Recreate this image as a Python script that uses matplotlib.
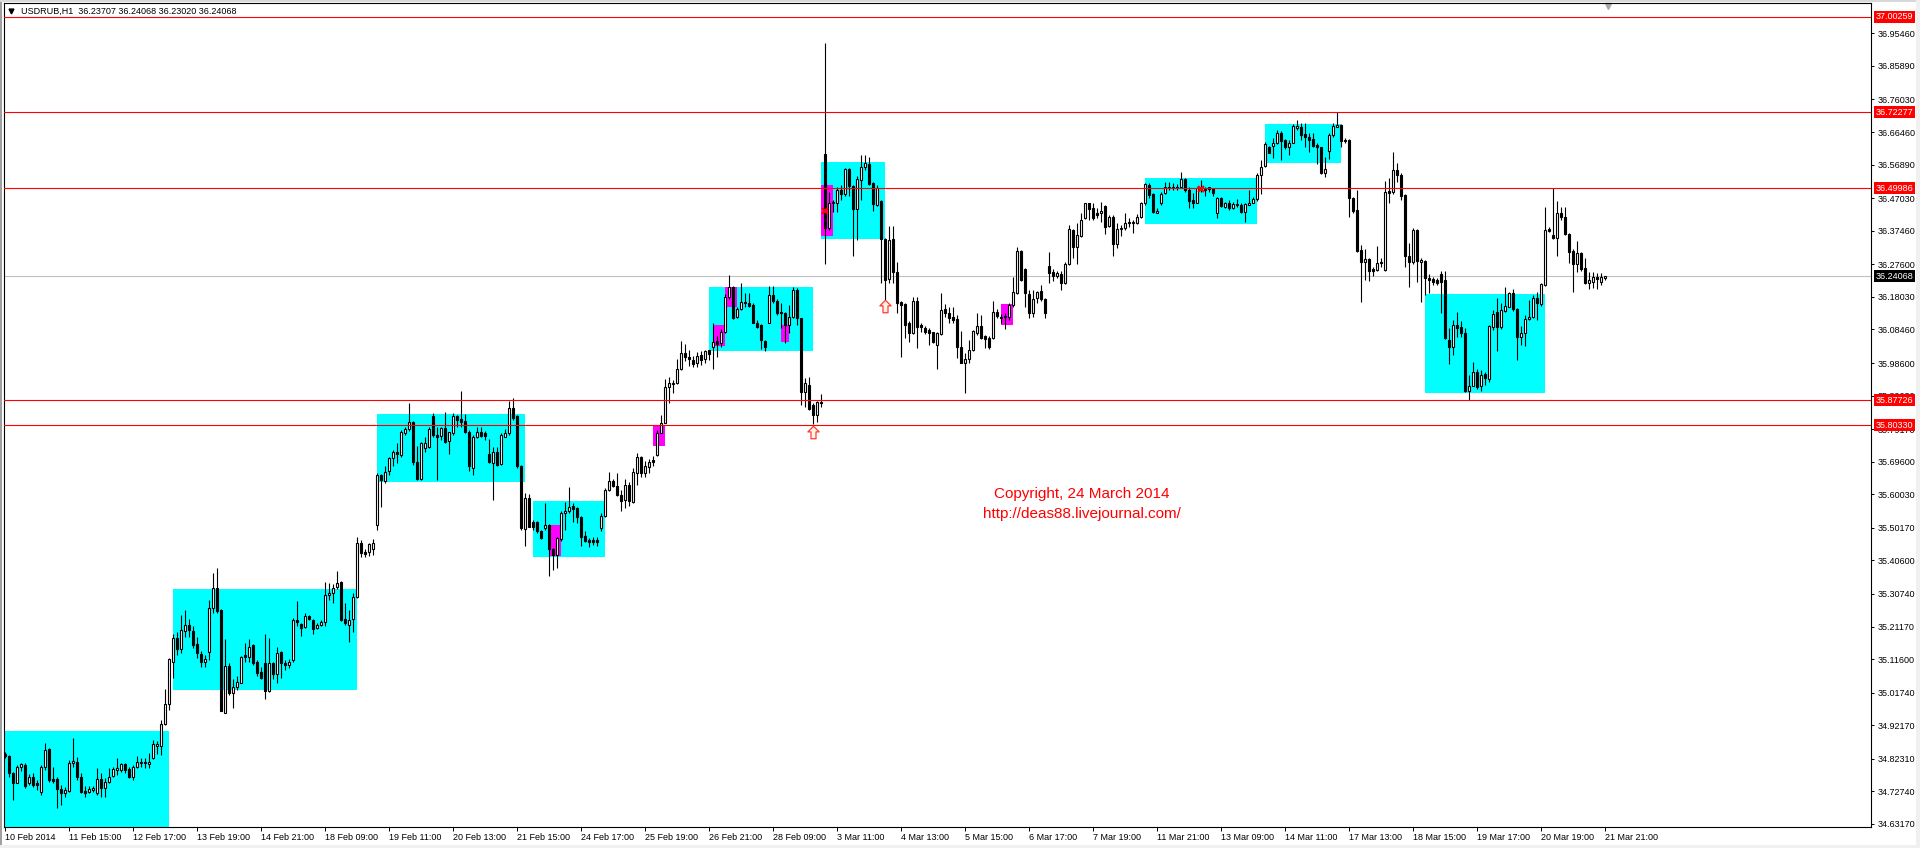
import numpy as np
import matplotlib
matplotlib.use('Agg')
import matplotlib.pyplot as plt
from matplotlib.path import Path
from matplotlib.patches import Rectangle

plt.rcParams['font.family'] = ['Liberation Sans', 'DejaVu Sans']

# USDRUB H1 candles, 10 Feb - 21 Mar 2014
opens = [
    34.838, 34.832, 34.781, 34.753, 34.798, 34.804, 34.752, 34.771, 34.753, 34.727,
    34.798, 34.851, 34.765, 34.763, 34.734, 34.722, 34.730, 34.810, 34.814, 34.769,
    34.730, 34.727, 34.732, 34.722, 34.763, 34.737, 34.756, 34.773, 34.791, 34.789,
    34.808, 34.793, 34.771, 34.798, 34.812, 34.814, 34.808, 34.825, 34.861, 34.862,
    34.925, 34.984, 35.109, 35.179, 35.145, 35.200, 35.216, 35.198, 35.161, 35.131,
    35.109, 35.138, 35.265, 35.324, 35.259, 34.959, 35.097, 35.016, 35.035, 35.047,
    35.127, 35.121, 35.157, 35.109, 35.078, 35.104, 35.021, 35.106, 35.073, 35.137,
    35.106, 35.099, 35.112, 35.231, 35.219, 35.210, 35.243, 35.231, 35.207, 35.216,
    35.226, 35.303, 35.309, 35.327, 35.344, 35.233, 35.216, 35.233, 35.298, 35.458,
    35.432, 35.432, 35.439, 35.510, 35.657, 35.638, 35.670, 35.706, 35.726, 35.716,
    35.780, 35.791, 35.814, 35.696, 35.645, 35.735, 35.740, 35.829, 35.775, 35.773,
    35.794, 35.758, 35.780, 35.829, 35.821, 35.816, 35.784, 35.677, 35.770, 35.782,
    35.780, 35.719, 35.691, 35.726, 35.689, 35.770, 35.780, 35.853, 35.829, 35.682,
    35.498, 35.589, 35.520, 35.518, 35.491, 35.501, 35.510, 35.439, 35.422, 35.468,
    35.546, 35.550, 35.566, 35.559, 35.533, 35.478, 35.466, 35.466, 35.466, 35.501,
    35.537, 35.613, 35.638, 35.625, 35.599, 35.584, 35.628, 35.579, 35.664, 35.709,
    35.662, 35.680, 35.701, 35.716, 35.781, 35.811, 35.915, 35.924, 35.926, 35.968,
    36.015, 36.005, 35.995, 35.987, 36.010, 35.997, 36.024, 36.034, 36.052, 36.046,
    36.078, 36.179, 36.208, 36.120, 36.144, 36.163, 36.163, 36.156, 36.103, 36.098,
    36.052, 36.105, 36.186, 36.169, 36.137, 36.132, 36.098, 36.122, 36.201, 36.117,
    35.902, 35.921, 35.863, 35.833, 35.872, 36.600, 36.382, 36.460, 36.455, 36.494,
    36.483, 36.555, 36.506, 36.438, 36.524, 36.561, 36.571, 36.516, 36.450, 36.462,
    36.349, 36.232, 36.349, 36.252, 36.166, 36.160, 36.103, 36.073, 36.169, 36.098,
    36.088, 36.083, 36.076, 36.039, 36.070, 36.144, 36.134, 36.120, 36.115, 36.034,
    35.987, 35.997, 36.024, 36.073, 36.095, 36.064, 36.059, 36.059, 36.137, 36.122,
    36.124, 36.122, 36.157, 36.191, 36.315, 36.262, 36.189, 36.134, 36.176, 36.199,
    36.174, 36.271, 36.252, 36.242, 36.248, 36.220, 36.277, 36.377, 36.328, 36.359,
    36.411, 36.455, 36.440, 36.428, 36.426, 36.447, 36.389, 36.416, 36.336, 36.379,
    36.382, 36.401, 36.398, 36.398, 36.414, 36.455, 36.509, 36.483, 36.428, 36.455,
    36.485, 36.499, 36.499, 36.499, 36.502, 36.526, 36.494, 36.465, 36.457, 36.494,
    36.496, 36.496, 36.496, 36.428, 36.470, 36.445, 36.455, 36.441, 36.450, 36.450,
    36.431, 36.450, 36.457, 36.467, 36.538, 36.565, 36.620, 36.624, 36.631, 36.663,
    36.641, 36.620, 36.633, 36.675, 36.678, 36.659, 36.651, 36.643, 36.627, 36.620,
    36.545, 36.610, 36.656, 36.680, 36.685, 36.641, 36.641, 36.470, 36.436, 36.318,
    36.284, 36.291, 36.261, 36.259, 36.284, 36.259, 36.492, 36.487, 36.553, 36.538,
    36.480, 36.301, 36.284, 36.377, 36.284, 36.285, 36.236, 36.232, 36.230, 36.248,
    36.230, 36.054, 36.034, 36.097, 36.091, 36.073, 35.905, 35.919, 35.961, 35.919,
    35.954, 35.938, 36.093, 36.137, 36.093, 36.140, 36.152, 36.191, 36.144, 36.062,
    36.073, 36.115, 36.120, 36.176, 36.159, 36.215, 36.379, 36.362, 36.352, 36.428,
    36.416, 36.365, 36.316, 36.277, 36.308, 36.264, 36.220, 36.225, 36.240, 36.225,
    36.23707]

highs = [
    34.842, 34.835, 34.783, 34.805, 34.812, 34.810, 34.779, 34.781, 34.761, 34.805,
    34.871, 34.854, 34.800, 34.771, 34.747, 34.740, 34.820, 34.884, 34.828, 34.781,
    34.742, 34.742, 34.744, 34.796, 34.781, 34.766, 34.796, 34.800, 34.825, 34.812,
    34.812, 34.800, 34.805, 34.832, 34.825, 34.825, 34.840, 34.879, 34.874, 34.937,
    35.028, 35.119, 35.190, 35.197, 35.246, 35.261, 35.233, 35.212, 35.180, 35.141,
    35.128, 35.290, 35.368, 35.383, 35.263, 35.174, 35.104, 35.057, 35.065, 35.126,
    35.163, 35.174, 35.160, 35.114, 35.092, 35.189, 35.177, 35.109, 35.151, 35.141,
    35.112, 35.116, 35.236, 35.288, 35.221, 35.251, 35.245, 35.233, 35.221, 35.231,
    35.344, 35.341, 35.336, 35.376, 35.347, 35.280, 35.261, 35.309, 35.476, 35.466,
    35.439, 35.458, 35.468, 35.662, 35.660, 35.682, 35.711, 35.731, 35.752, 35.789,
    35.799, 35.868, 35.817, 35.742, 35.755, 35.770, 35.799, 35.838, 35.799, 35.799,
    35.843, 35.784, 35.840, 35.833, 35.905, 35.836, 35.789, 35.775, 35.799, 35.799,
    35.787, 35.762, 35.740, 35.740, 35.780, 35.791, 35.873, 35.882, 35.833, 35.687,
    35.603, 35.601, 35.525, 35.523, 35.494, 35.574, 35.513, 35.442, 35.476, 35.550,
    35.579, 35.623, 35.576, 35.562, 35.537, 35.491, 35.471, 35.476, 35.474, 35.545,
    35.618, 35.667, 35.645, 35.662, 35.613, 35.645, 35.635, 35.677, 35.723, 35.713,
    35.699, 35.703, 35.713, 35.789, 35.833, 35.938, 35.944, 35.936, 35.997, 36.052,
    36.042, 36.024, 36.007, 36.017, 36.020, 36.024, 36.024, 36.103, 36.064, 36.085,
    36.189, 36.245, 36.212, 36.152, 36.220, 36.193, 36.193, 36.161, 36.112, 36.101,
    36.054, 36.212, 36.212, 36.173, 36.163, 36.137, 36.156, 36.208, 36.205, 36.117,
    35.941, 35.946, 35.868, 35.875, 35.895, 36.925, 36.489, 36.465, 36.504, 36.509,
    36.558, 36.558, 36.509, 36.534, 36.597, 36.597, 36.592, 36.519, 36.509, 36.465,
    36.352, 36.389, 36.389, 36.284, 36.169, 36.162, 36.108, 36.181, 36.179, 36.103,
    36.095, 36.088, 36.078, 36.078, 36.193, 36.160, 36.152, 36.152, 36.127, 36.081,
    36.015, 36.054, 36.083, 36.134, 36.127, 36.068, 36.064, 36.168, 36.144, 36.130,
    36.134, 36.162, 36.240, 36.328, 36.318, 36.264, 36.201, 36.201, 36.199, 36.215,
    36.176, 36.311, 36.261, 36.255, 36.255, 36.284, 36.392, 36.379, 36.397, 36.428,
    36.457, 36.457, 36.455, 36.440, 36.460, 36.450, 36.421, 36.421, 36.397, 36.392,
    36.426, 36.411, 36.406, 36.424, 36.460, 36.514, 36.514, 36.485, 36.440, 36.489,
    36.519, 36.519, 36.516, 36.512, 36.548, 36.529, 36.504, 36.485, 36.504, 36.524,
    36.504, 36.504, 36.499, 36.475, 36.475, 36.460, 36.465, 36.460, 36.467, 36.455,
    36.457, 36.494, 36.475, 36.543, 36.581, 36.636, 36.624, 36.646, 36.671, 36.669,
    36.643, 36.641, 36.688, 36.700, 36.690, 36.690, 36.661, 36.661, 36.633, 36.622,
    36.592, 36.661, 36.692, 36.722, 36.688, 36.646, 36.643, 36.475, 36.494, 36.333,
    36.320, 36.294, 36.269, 36.330, 36.294, 36.522, 36.529, 36.607, 36.573, 36.543,
    36.483, 36.340, 36.382, 36.379, 36.294, 36.289, 36.248, 36.240, 36.235, 36.255,
    36.255, 36.088, 36.113, 36.136, 36.108, 36.090, 35.951, 35.990, 35.968, 35.966,
    35.961, 36.098, 36.142, 36.176, 36.163, 36.210, 36.196, 36.203, 36.147, 36.095,
    36.127, 36.171, 36.186, 36.196, 36.222, 36.444, 36.387, 36.499, 36.463, 36.444,
    36.444, 36.369, 36.320, 36.343, 36.313, 36.294, 36.252, 36.254, 36.250, 36.251,
    36.24068]

lows = [
    34.825, 34.771, 34.702, 34.751, 34.786, 34.737, 34.747, 34.740, 34.732, 34.717,
    34.791, 34.756, 34.752, 34.678, 34.688, 34.710, 34.727, 34.800, 34.761, 34.722,
    34.712, 34.722, 34.727, 34.717, 34.712, 34.712, 34.752, 34.769, 34.776, 34.783,
    34.781, 34.766, 34.761, 34.795, 34.798, 34.795, 34.795, 34.822, 34.838, 34.835,
    34.923, 34.967, 35.060, 35.128, 35.133, 35.182, 35.182, 35.150, 35.119, 35.094,
    35.092, 35.114, 35.251, 35.251, 34.964, 34.959, 35.011, 34.972, 35.026, 35.045,
    35.109, 35.109, 35.099, 35.065, 35.057, 34.999, 35.019, 35.057, 35.047, 35.060,
    35.084, 35.089, 35.109, 35.212, 35.184, 35.207, 35.231, 35.190, 35.204, 35.212,
    35.213, 35.290, 35.282, 35.321, 35.229, 35.216, 35.167, 35.197, 35.295, 35.415,
    35.415, 35.419, 35.422, 35.495, 35.564, 35.633, 35.657, 35.684, 35.691, 35.711,
    35.775, 35.787, 35.687, 35.643, 35.643, 35.726, 35.735, 35.770, 35.641, 35.760,
    35.750, 35.719, 35.775, 35.799, 35.799, 35.780, 35.670, 35.657, 35.765, 35.770,
    35.760, 35.691, 35.584, 35.682, 35.687, 35.768, 35.775, 35.819, 35.677, 35.496,
    35.449, 35.503, 35.496, 35.486, 35.468, 35.496, 35.359, 35.378, 35.385, 35.464,
    35.496, 35.545, 35.520, 35.515, 35.447, 35.461, 35.445, 35.452, 35.449, 35.491,
    35.533, 35.610, 35.621, 35.596, 35.550, 35.559, 35.566, 35.576, 35.628, 35.652,
    35.650, 35.664, 35.684, 35.713, 35.780, 35.809, 35.868, 35.899, 35.924, 35.964,
    35.993, 35.977, 35.975, 35.973, 35.980, 35.985, 35.995, 35.968, 36.005, 36.032,
    36.075, 36.173, 36.114, 36.117, 36.142, 36.152, 36.150, 36.103, 36.088, 36.026,
    36.022, 36.103, 36.161, 36.127, 36.088, 36.046, 36.073, 36.117, 36.098, 35.863,
    35.858, 35.848, 35.807, 35.814, 35.856, 36.277, 36.377, 36.431, 36.431, 36.465,
    36.477, 36.477, 36.299, 36.346, 36.465, 36.553, 36.509, 36.434, 36.447, 36.220,
    36.171, 36.222, 36.222, 36.132, 36.003, 36.059, 36.049, 36.071, 36.029, 36.078,
    36.071, 36.039, 36.046, 35.968, 36.068, 36.122, 36.105, 36.105, 36.000, 35.985,
    35.897, 35.985, 36.022, 36.068, 36.056, 36.029, 36.026, 36.056, 36.117, 36.103,
    36.085, 36.113, 36.150, 36.189, 36.228, 36.152, 36.117, 36.120, 36.162, 36.169,
    36.117, 36.222, 36.228, 36.235, 36.201, 36.218, 36.274, 36.294, 36.277, 36.355,
    36.408, 36.406, 36.406, 36.411, 36.401, 36.365, 36.385, 36.301, 36.323, 36.359,
    36.377, 36.385, 36.369, 36.394, 36.411, 36.450, 36.470, 36.428, 36.426, 36.450,
    36.483, 36.494, 36.494, 36.494, 36.499, 36.489, 36.441, 36.441, 36.455, 36.489,
    36.477, 36.489, 36.477, 36.411, 36.443, 36.441, 36.436, 36.438, 36.445, 36.426,
    36.401, 36.450, 36.455, 36.463, 36.483, 36.561, 36.602, 36.587, 36.629, 36.582,
    36.614, 36.597, 36.631, 36.672, 36.641, 36.622, 36.607, 36.620, 36.571, 36.541,
    36.532, 36.584, 36.651, 36.678, 36.620, 36.631, 36.416, 36.428, 36.313, 36.166,
    36.230, 36.228, 36.242, 36.257, 36.269, 36.257, 36.457, 36.483, 36.519, 36.465,
    36.269, 36.210, 36.277, 36.225, 36.166, 36.186, 36.193, 36.215, 36.215, 36.132,
    36.056, 35.983, 36.010, 36.062, 36.062, 35.902, 35.878, 35.917, 35.909, 35.905,
    35.922, 35.931, 36.083, 36.020, 36.085, 36.137, 36.150, 36.140, 35.995, 36.039,
    36.036, 36.113, 36.117, 36.111, 36.154, 36.212, 36.372, 36.349, 36.299, 36.406,
    36.362, 36.279, 36.196, 36.252, 36.257, 36.218, 36.203, 36.206, 36.203, 36.215,
    36.23020]

closes = [
    34.830, 34.781, 34.753, 34.800, 34.808, 34.744, 34.769, 34.747, 34.747, 34.798,
    34.849, 34.761, 34.757, 34.734, 34.722, 34.732, 34.810, 34.818, 34.769, 34.727,
    34.724, 34.734, 34.737, 34.763, 34.737, 34.755, 34.771, 34.793, 34.796, 34.808,
    34.789, 34.769, 34.798, 34.815, 34.815, 34.810, 34.814, 34.866, 34.866, 34.925,
    34.984, 35.116, 35.177, 35.145, 35.202, 35.216, 35.202, 35.158, 35.133, 35.109,
    35.116, 35.265, 35.324, 35.256, 34.965, 35.097, 35.016, 35.035, 35.049, 35.121,
    35.121, 35.153, 35.106, 35.076, 35.062, 35.021, 35.106, 35.073, 35.133, 35.104,
    35.099, 35.109, 35.231, 35.225, 35.207, 35.243, 35.233, 35.204, 35.216, 35.226,
    35.305, 35.311, 35.324, 35.339, 35.231, 35.221, 35.231, 35.298, 35.456, 35.429,
    35.425, 35.454, 35.458, 35.657, 35.641, 35.667, 35.706, 35.726, 35.719, 35.782,
    35.791, 35.814, 35.696, 35.645, 35.750, 35.752, 35.791, 35.775, 35.770, 35.794,
    35.755, 35.782, 35.829, 35.819, 35.814, 35.784, 35.682, 35.770, 35.782, 35.773,
    35.773, 35.696, 35.726, 35.687, 35.775, 35.780, 35.853, 35.824, 35.682, 35.501,
    35.589, 35.505, 35.505, 35.491, 35.471, 35.510, 35.439, 35.422, 35.471, 35.545,
    35.552, 35.562, 35.556, 35.533, 35.474, 35.464, 35.461, 35.461, 35.461, 35.537,
    35.613, 35.640, 35.625, 35.599, 35.582, 35.628, 35.582, 35.667, 35.709, 35.662,
    35.684, 35.696, 35.696, 35.781, 35.811, 35.915, 35.926, 35.926, 35.968, 36.015,
    36.005, 35.997, 35.983, 36.007, 35.995, 36.022, 36.013, 36.049, 36.042, 36.078,
    36.179, 36.208, 36.117, 36.144, 36.166, 36.166, 36.154, 36.105, 36.093, 36.054,
    36.034, 36.186, 36.169, 36.134, 36.132, 36.098, 36.120, 36.201, 36.117, 35.902,
    35.928, 35.850, 35.833, 35.870, 35.868, 36.382, 36.455, 36.455, 36.494, 36.483,
    36.555, 36.506, 36.438, 36.526, 36.561, 36.573, 36.512, 36.452, 36.501, 36.349,
    36.230, 36.347, 36.252, 36.163, 36.157, 36.098, 36.073, 36.169, 36.093, 36.093,
    36.078, 36.073, 36.049, 36.073, 36.142, 36.132, 36.117, 36.113, 36.032, 35.987,
    35.997, 36.024, 36.081, 36.095, 36.059, 36.056, 36.032, 36.137, 36.124, 36.117,
    36.120, 36.157, 36.196, 36.315, 36.230, 36.191, 36.132, 36.173, 36.196, 36.173,
    36.132, 36.250, 36.242, 36.250, 36.220, 36.277, 36.379, 36.328, 36.362, 36.406,
    36.455, 36.438, 36.411, 36.421, 36.434, 36.387, 36.416, 36.336, 36.379, 36.382,
    36.397, 36.397, 36.401, 36.416, 36.455, 36.512, 36.480, 36.431, 36.434, 36.483,
    36.504, 36.504, 36.504, 36.504, 36.526, 36.494, 36.463, 36.457, 36.499, 36.499,
    36.494, 36.502, 36.485, 36.470, 36.447, 36.455, 36.441, 36.452, 36.452, 36.431,
    36.452, 36.457, 36.467, 36.538, 36.563, 36.629, 36.604, 36.631, 36.663, 36.639,
    36.620, 36.631, 36.682, 36.682, 36.656, 36.649, 36.641, 36.624, 36.620, 36.545,
    36.555, 36.656, 36.682, 36.685, 36.639, 36.639, 36.470, 36.434, 36.316, 36.284,
    36.291, 36.255, 36.257, 36.279, 36.281, 36.489, 36.485, 36.553, 36.538, 36.477,
    36.299, 36.284, 36.377, 36.287, 36.289, 36.235, 36.230, 36.225, 36.222, 36.225,
    36.059, 36.034, 36.097, 36.089, 36.073, 35.905, 35.919, 35.961, 35.915, 35.951,
    35.941, 36.095, 36.130, 36.093, 36.142, 36.154, 36.191, 36.144, 36.062, 36.073,
    36.115, 36.120, 36.176, 36.161, 36.218, 36.377, 36.375, 36.352, 36.428, 36.414,
    36.365, 36.313, 36.277, 36.308, 36.261, 36.220, 36.230, 36.240, 36.232, 36.240,
    36.24068]

time_labels = ['10 Feb 2014', '11 Feb 15:00', '12 Feb 17:00', '13 Feb 19:00', '14 Feb 21:00',
               '18 Feb 09:00', '19 Feb 11:00', '20 Feb 13:00', '21 Feb 15:00', '24 Feb 17:00',
               '25 Feb 19:00', '26 Feb 21:00', '28 Feb 09:00', '3 Mar 11:00', '4 Mar 13:00',
               '5 Mar 15:00', '6 Mar 17:00', '7 Mar 19:00', '11 Mar 21:00', '13 Mar 09:00',
               '14 Mar 11:00', '17 Mar 13:00', '18 Mar 15:00', '19 Mar 17:00', '20 Mar 19:00',
               '21 Mar 21:00']
label_every = 16

price_ticks = [36.95460, 36.85890, 36.76030, 36.66460, 36.56890, 36.47030, 36.37460,
               36.27600, 36.18030, 36.08460, 35.98600, 35.89030, 35.79170, 35.69600,
               35.60030, 35.50170, 35.40600, 35.30740, 35.21170, 35.11600, 35.01740,
               34.92170, 34.82310, 34.72740, 34.63170]

# horizontal levels (red) and current bid
levels = [37.00259, 36.72277, 36.49986, 35.87726, 35.80330]
bid = 36.24068

# cyan ranges: first bar, last bar, top, bottom
box_first = [0, 42, 93, 132, 176, 204, 285, 315, 355]
box_last = [41, 88, 130, 150, 202, 220, 313, 334, 385]
box_top = [34.905, 35.322, 35.836, 35.581, 36.209, 36.577, 36.531, 36.688, 36.189]
box_bottom = [34.600, 35.026, 35.635, 35.417, 36.022, 36.350, 36.395, 36.575, 35.899]

# magenta blocks
mag_first = [136, 162, 177, 180, 194, 204, 249]
mag_last = [139, 165, 180, 183, 196, 207, 252]
mag_top = [35.510, 35.804, 36.098, 36.208, 36.098, 36.509, 36.160]
mag_bottom = [35.419, 35.742, 36.036, 36.150, 36.049, 36.359, 36.098]

# markers
cross_bars = [205, 299]
cross_prices = [36.434, 36.497]
arrow_bars = [202, 220]
arrow_prices = [35.782, 36.153]

o = np.array(opens)
h = np.array(highs)
l = np.array(lows)
c = np.array(closes)
x = np.arange(len(c))
up = c >= o

fig = plt.figure(figsize=(19.2, 8.48), dpi=100)
fig.set_facecolor('white')
ax = fig.add_axes([4 / 1920, 1 - 827 / 848, 1867 / 1920, 824 / 848])
ax.set_xlim(-0.25, 466.5)
ax.set_ylim(34.6228, 37.0437)

for s, e, t, b in zip(box_first, box_last, box_top, box_bottom):
    ax.add_patch(Rectangle((s, b), e - s, t - b, fc='#00ffff', ec='none', zorder=1))
for s, e, t, b in zip(mag_first, mag_last, mag_top, mag_bottom):
    ax.add_patch(Rectangle((s, b), e - s, t - b, fc='#ff00ff', ec='none', zorder=1.5))

ax.axhline(bid, color='#c0c0c0', lw=0.8, zorder=2)

ax.vlines(x, l, h, colors='black', lw=0.8, zorder=3)
body_lo = np.minimum(o, c)
body_h = np.abs(c - o)
ax.bar(x[up], body_h[up], bottom=body_lo[up], width=0.5, color='white',
       edgecolor='black', linewidth=0.8, zorder=4)
ax.bar(x[~up], body_h[~up], bottom=body_lo[~up], width=0.5, color='black',
       edgecolor='black', linewidth=0.8, zorder=4)

for p in levels:
    ax.axhline(p, color='red', lw=0.8, zorder=5)

ax.plot(cross_bars, cross_prices, 'x', color='red', ms=5, mew=1.5, zorder=6)

arrow = Path([(0, 1), (-0.9, 0.1), (-0.4, 0.1), (-0.4, -1), (0.4, -1), (0.4, 0.1),
              (0.9, 0.1), (0, 1)])
ax.plot(arrow_bars, arrow_prices, ls='none', marker=arrow, ms=9, mfc='#fff4ea',
        mec='#ff3b2f', mew=0.9, zorder=6)

ax.text(269.25, 35.6026, 'Copyright, 24 March 2014', color='red', fontsize=11,
        ha='center', va='center')
ax.text(269.25, 35.5424, 'http://deas88.livejournal.com/', color='red', fontsize=11,
        ha='center', va='center')

# header line with the last bar
header = 'USDRUB,H1  %.5f %.5f %.5f %.5f' % (o[-1], h[-1], l[-1], c[-1])
ax.text(0.0089, 0.9899, header, transform=ax.transAxes, fontsize=6.5,
        ha='left', va='center')
ax.plot([0.0037], [0.9899], marker='v', color='black', ms=3.5, transform=ax.transAxes)
ax.plot([400.75], [0.9964], marker='v', color='#a8a8a8', ms=5,
        transform=ax.get_xaxis_transform(), clip_on=False)

ax.set_xticks(np.arange(len(time_labels)) * label_every)
ax.set_xticklabels(time_labels, ha='left')
ax.tick_params(axis='x', direction='out', length=3, width=0.7, pad=1.5, labelsize=6.5)

ax.yaxis.tick_right()
ax.set_yticks(price_ticks)
ax.set_yticklabels(['%.5f' % v for v in price_ticks])
ax.tick_params(axis='y', direction='out', length=2.5, width=0.7, pad=2.5, labelsize=6.5)

for sp in ax.spines.values():
    sp.set_linewidth(0.8)
    sp.set_color('black')

ytr = ax.get_yaxis_transform()
for p in levels:
    ax.text(1.0027, p, '%.5f' % p, transform=ytr, fontsize=6.5, color='white',
            ha='left', va='center', clip_on=False, zorder=10,
            bbox=dict(boxstyle='square,pad=0.18', fc='red', ec='none'))
ax.text(1.0027, bid, '%.5f' % bid, transform=ytr, fontsize=6.5, color='white',
        ha='left', va='center', clip_on=False, zorder=10,
        bbox=dict(boxstyle='square,pad=0.18', fc='black', ec='none'))

# window frame
for rx, ry, rw, rh, col in [(0, 0, 2 / 1920, 1, '#a0a0a0'),
                            (0, 1 - 2 / 848, 1, 2 / 848, '#d8d8d8'),
                            (1 - 4 / 1920, 0, 4 / 1920, 1, '#f0f0f0'),
                            (0, 0, 1, 3 / 848, '#f0f0f0')]:
    fig.add_artist(Rectangle((rx, ry), rw, rh, transform=fig.transFigure,
                             fc=col, ec='none'))

fig.savefig('out.png', dpi=100, facecolor=fig.get_facecolor())
